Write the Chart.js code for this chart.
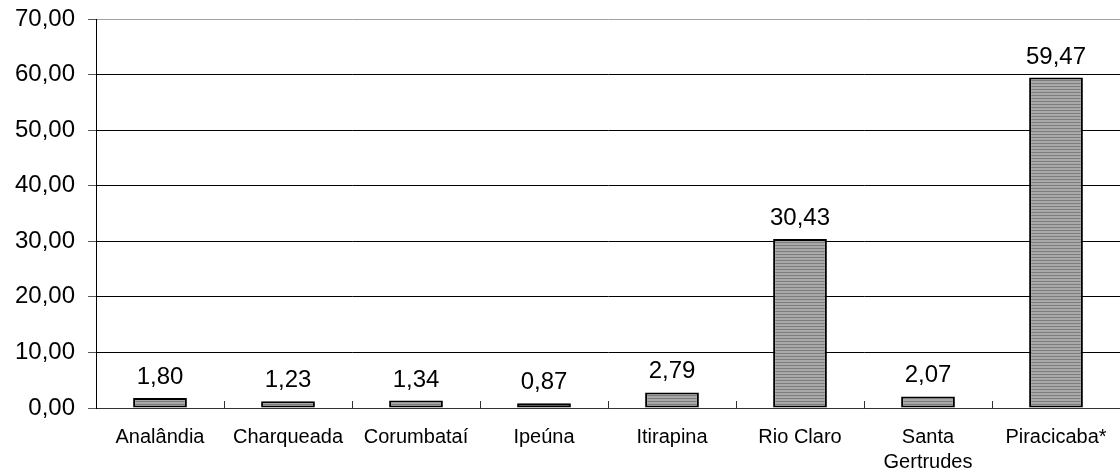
<!DOCTYPE html>
<html>
<head>
<meta charset="utf-8">
<script src="https://cdn.jsdelivr.net/npm/chart.js@4"></script>
<style>
  html, body { margin: 0; padding: 0; background: #fff; }
  #wrap { width: 1120px; height: 474px; }
</style>
</head>
<body>
<div id="wrap"><canvas id="chart"></canvas></div>
<script>
// municípios e valores
const cidades = ['Analândia', 'Charqueada', 'Corumbataí', 'Ipeúna', 'Itirapina', 'Rio Claro', ['Santa', 'Gertrudes'], 'Piracicaba*'];
const valores = [1.80, 1.23, 1.34, 0.87, 2.79, 30.43, 2.07, 59.47];
const eixoMin = 0;
const eixoMax = 70;
const eixoPasso = 10;

const fonte = "'Liberation Sans', Arial, sans-serif";

function fmt(v) {
    return v.toFixed(2).replace('.', ',');
}

// preenchimento listrado das barras
function listras() {
    const c = document.createElement('canvas');
    c.width = 4; c.height = 3;
    const g = c.getContext('2d');
    g.fillStyle = '#a9a9a9';
    g.fillRect(0, 0, 4, 3);
    g.fillStyle = '#7d7d7d';
    g.fillRect(0, 2, 4, 1);
    return g.createPattern(c, 'repeat');
}

// rótulos de valor acima das barras + marcas entre categorias
const rotulos = {
    id: 'rotulos',
    afterDatasetsDraw(chart) {
        const ctx = chart.ctx;
        const meta = chart.getDatasetMeta(0);
        ctx.save();
        ctx.font = '24px ' + fonte;
        ctx.fillStyle = '#000';
        ctx.textAlign = 'center';
        ctx.textBaseline = 'alphabetic';
        meta.data.forEach((bar, i) => {
            ctx.fillText(fmt(valores[i]), bar.x, bar.y - 14);
        });
        const xs = chart.scales.x;
        const base = chart.chartArea.bottom;
        ctx.strokeStyle = '#333';
        ctx.lineWidth = 1;
        for (let i = 1; i < cidades.length; i++) {
            const x = Math.round((xs.getPixelForTick(i - 1) + xs.getPixelForTick(i)) / 2) + 0.5;
            ctx.beginPath();
            ctx.moveTo(x, base);
            ctx.lineTo(x, base - 7);
            ctx.stroke();
        }
        ctx.restore();
    }
};

const ctx = document.getElementById('chart').getContext('2d');
new Chart(ctx, {
    type: 'bar',
    data: {
        labels: cidades,
        datasets: [{
            data: valores,
            backgroundColor: listras(),
            borderColor: '#000',
            borderWidth: 2,
            borderSkipped: false,
            barPercentage: 0.42,
            categoryPercentage: 1
        }]
    },
    options: {
        responsive: true,
        maintainAspectRatio: false,
        animation: false,
        layout: { padding: { top: 19, right: 0, left: 0, bottom: 0 } },
        plugins: {
            legend: { display: false },
            tooltip: { enabled: false }
        },
        scales: {
            x: {
                afterFit: (s) => { s.height = 66; s.paddingLeft = 0; s.paddingRight = 0; },
                grid: { display: false, drawTicks: false },
                border: { display: true, color: '#333', width: 1 },
                ticks: {
                    color: '#000',
                    padding: 17,
                    maxRotation: 0,
                    autoSkip: false,
                    font: { family: fonte, size: 20, lineHeight: 1.25 }
                }
            },
            y: {
                min: eixoMin,
                max: eixoMax,
                afterFit: (s) => { s.width = 96; s.paddingTop = 0; s.paddingBottom = 0; },
                grid: {
                    color: (c) => (c.tick && c.tick.value === eixoMax) ? '#a0a0a0' : '#000',
                    tickColor: '#555',
                    tickLength: 8,
                    lineWidth: 1
                },
                border: { display: true, color: '#000', width: 1 },
                ticks: {
                    stepSize: eixoPasso,
                    color: '#000',
                    padding: 13,
                    font: { family: fonte, size: 24 },
                    callback: (v) => fmt(v)
                }
            }
        }
    },
    plugins: [rotulos]
});
</script>
</body>
</html>
